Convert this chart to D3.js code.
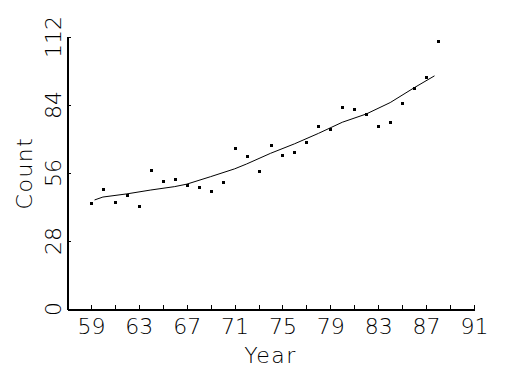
<!DOCTYPE html>
<html>
<head>
<meta charset="utf-8">
<script src="https://cdn.jsdelivr.net/npm/d3@7"></script>
<style>
  body { margin: 0; background: #fff; }
  svg { display: block; }
  text { font-family: "DejaVu Sans", sans-serif; font-weight: 200; fill: #000; }
</style>
</head>
<body>
<div id="chart"></div>
<script>
// observed counts per year
const years = [59, 60, 61, 62, 63, 64, 65, 66, 67, 68, 69, 70, 71, 72, 73,
  74, 75, 76, 77, 78, 79, 80, 81, 82, 83, 84, 85, 86, 87, 88];
const counts = [43.7, 49.4, 44.0, 47.0, 42.3, 57.1, 52.6, 53.4, 50.9, 50.1,
  48.5, 52.4, 66.2, 63.1, 56.8, 67.4, 63.3, 64.8, 68.8, 75.5, 74.0, 83.1,
  82.2, 80.4, 75.5, 76.9, 84.7, 91.1, 95.4, 110.4];

// smoothed fit
const fitYears = [59.3, 60, 62, 64, 66, 67, 69, 71, 72, 74, 76, 78, 80, 82, 84, 86, 87.7];
const fitCounts = [44.9, 46.1, 47.4, 49.0, 50.4, 51.4, 54.5, 57.7, 59.7, 64.1,
  68.0, 72.3, 76.9, 80.3, 85.0, 91.1, 96.0];

const xTicks = [59, 61, 63, 65, 67, 69, 71, 73, 75, 77, 79, 81, 83, 85, 87, 89, 91];
const xLabels = [59, 63, 67, 71, 75, 79, 83, 87, 91];
const yTicks = [0, 28, 56, 84, 112];

const width = 525;
const height = 375;

const svg = d3.select('#chart')
  .append('svg')
  .attr('width', width)
  .attr('height', height);

const x = d3.scaleLinear().domain([57, 91]).range([67, 474]);
const y = d3.scaleLinear().domain([0, 112]).range([309, 37]);

// x axis
const xAxis = svg.append('g')
  .attr('transform', 'translate(0,' + y(0) + ')')
  .call(d3.axisBottom(x)
    .tickValues(xTicks)
    .tickSizeInner(-4)
    .tickSizeOuter(0)
    .tickPadding(9)
    .tickFormat(function(d) {
      return xLabels.indexOf(d) >= 0 ? d : '';
    }));
xAxis.select('.domain').attr('stroke', '#000').attr('stroke-width', 2)
  .attr('shape-rendering', 'crispEdges');
xAxis.selectAll('.tick line').attr('stroke', '#000').attr('shape-rendering', 'crispEdges');
xAxis.selectAll('.tick text')
  .attr('font-family', null)
  .attr('font-size', null)
  .style('font-size', '22px');

// y axis
const yAxis = svg.append('g')
  .attr('transform', 'translate(' + x(57) + ',0)')
  .call(d3.axisLeft(y)
    .tickValues(yTicks)
    .tickSizeInner(-4)
    .tickSizeOuter(0)
    .tickFormat(''));
yAxis.select('.domain').attr('stroke', '#000').attr('stroke-width', 2)
  .attr('shape-rendering', 'crispEdges');
yAxis.selectAll('.tick line').attr('stroke', '#000').attr('shape-rendering', 'crispEdges');

svg.append('g')
  .selectAll('text')
  .data(yTicks)
  .enter()
  .append('text')
  .attr('transform', function(d) {
    return 'translate(61,' + y(d) + ') rotate(-90)';
  })
  .attr('text-anchor', 'middle')
  .style('font-size', '22px')
  .text(String);

// axis titles
svg.append('text')
  .attr('x', (x(57) + x(91)) / 2)
  .attr('y', 363)
  .attr('text-anchor', 'middle')
  .style('font-size', '22px')
  .style('letter-spacing', '1.5px')
  .text('Year');

svg.append('text')
  .attr('transform', 'translate(32,' + (y(0) + y(112)) / 2 + ') rotate(-90)')
  .attr('text-anchor', 'middle')
  .style('font-size', '22px')
  .style('letter-spacing', '1.5px')
  .text('Count');

// fit line
const line = d3.line()
  .x(function(d, i) { return x(fitYears[i]); })
  .y(function(d) { return y(d); });

svg.append('path')
  .datum(fitCounts)
  .attr('fill', 'none')
  .attr('stroke', '#000')
  .attr('stroke-width', 1)
  .attr('d', line);

// points
svg.append('g')
  .selectAll('rect')
  .data(counts)
  .enter()
  .append('rect')
  .attr('x', function(d, i) { return Math.round(x(years[i])) - 1.5; })
  .attr('y', function(d) { return Math.round(y(d)) - 1.5; })
  .attr('width', 3)
  .attr('height', 3)
  .attr('fill', '#000')
  .attr('shape-rendering', 'crispEdges');
</script>
</body>
</html>
